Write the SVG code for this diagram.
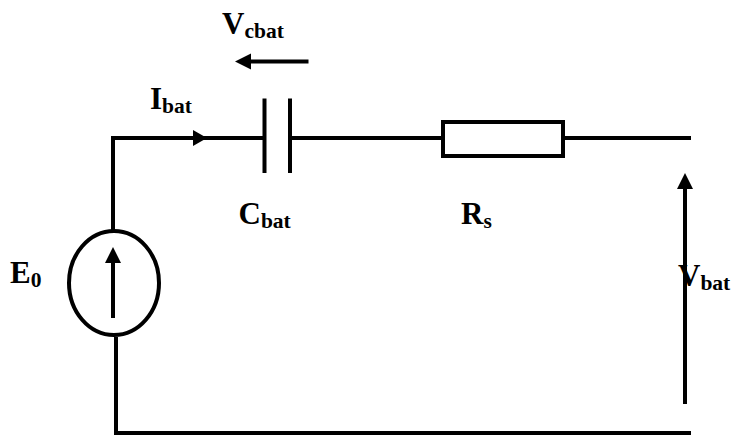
<svg xmlns="http://www.w3.org/2000/svg" width="733" height="435" viewBox="0 0 733 435">
<style>
.w{fill:none;stroke:#000;stroke-width:4}
.h{fill:#000;stroke:none}
text{font-family:"Liberation Serif","Times New Roman",serif;font-weight:bold;fill:#000;font-size:31px}
tspan{font-size:21.500px}
</style>
<rect width="733" height="435" fill="#fff"/>
<g id="connectors">
<path class="w" d="M113 231V138H264"/>
<path class="w" d="M290 138H442"/>
<path class="w" d="M563 138H691"/>
<path class="w" d="M116 337V433H691"/>
<path class="h" d="M207 138L193 130V146Z"/>
</g>
<g id="capacitor">
<path class="w" d="M264.500 98.500V173M290 98.500V173"/>
<text x="238.500" y="224">C<tspan dy="4">bat</tspan></text>
</g>
<g id="resistor">
<rect class="w" x="443" y="122" width="120" height="34"/>
<text x="461" y="224">R<tspan dy="4">s</tspan></text>
</g>
<g id="source">
<ellipse class="w" cx="114" cy="283" rx="45" ry="52"/>
<path class="w" d="M113 318V258"/>
<path class="h" d="M113 247L105 263H121Z"/>
<text x="10" y="283">E<tspan dy="4">0</tspan></text>
</g>
<g id="current-label">
<text x="150" y="109">I<tspan dy="4">bat</tspan></text>
</g>
<g id="vcbat">
<path class="w" d="M308.500 61.500H246"/>
<path class="h" d="M235 61.500L251 53.500V69.500Z"/>
<text x="222" y="34">V<tspan dy="4">cbat</tspan></text>
</g>
<g id="vbat">
<path class="w" d="M685 404V185"/>
<path class="h" d="M685 173L677 189H693Z"/>
<text x="678" y="286">V<tspan dy="4">bat</tspan></text>
</g>
</svg>
